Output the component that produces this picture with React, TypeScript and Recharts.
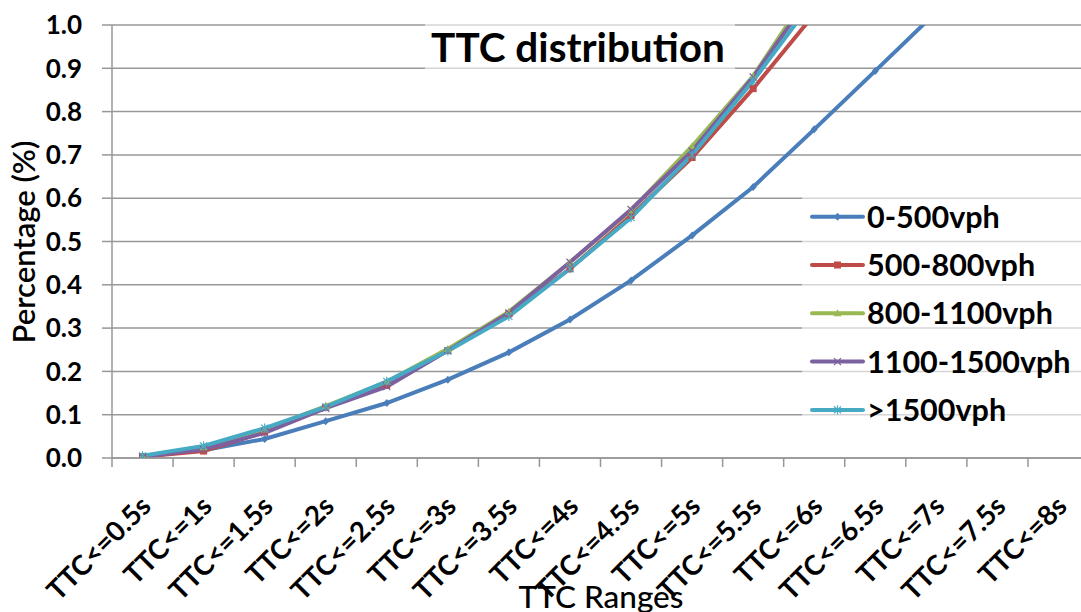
import React from "react";
import {
  LineChart,
  Line,
  XAxis,
  YAxis,
  CartesianGrid,
  Legend,
  Customized,
} from "recharts";

const categories = [
  "TTC<=0.5s",
  "TTC<=1s",
  "TTC<=1.5s",
  "TTC<=2s",
  "TTC<=2.5s",
  "TTC<=3s",
  "TTC<=3.5s",
  "TTC<=4s",
  "TTC<=4.5s",
  "TTC<=5s",
  "TTC<=5.5s",
  "TTC<=6s",
  "TTC<=6.5s",
  "TTC<=7s",
  "TTC<=7.5s",
  "TTC<=8s",
];

// cumulative share per flow band; points past 1.0 run off the top of the plot
const vph0To500 = [0.004, 0.018, 0.044, 0.085, 0.127, 0.181, 0.244, 0.32, 0.41, 0.514, 0.626, 0.759, 0.894, 1.03, null, null];
const vph500To800 = [0.003, 0.016, 0.06, 0.117, 0.168, 0.248, 0.333, 0.437, 0.56, 0.694, 0.853, 1.025, null, null, null, null];
const vph800To1100 = [0.004, 0.025, 0.066, 0.12, 0.176, 0.252, 0.338, 0.452, 0.572, 0.72, 0.882, 1.094, null, null, null, null];
const vph1100To1500 = [0.003, 0.02, 0.058, 0.115, 0.165, 0.248, 0.335, 0.452, 0.574, 0.709, 0.88, 1.08, null, null, null, null];
const vphOver1500 = [0.005, 0.028, 0.069, 0.118, 0.177, 0.247, 0.327, 0.437, 0.555, 0.7, 0.871, 1.06, null, null, null, null];

const yTicks = [0, 0.1, 0.2, 0.3, 0.4, 0.5, 0.6, 0.7, 0.8, 0.9, 1.0];

const FONT = "Lato, 'Open Sans', sans-serif";
const GRID = "#979797";

type MarkerKind = "diamond" | "square" | "triangle" | "cross" | "star";

const series: { key: string; name: string; color: string; marker: MarkerKind; values: (number | null)[] }[] = [
  { key: "a", name: "0-500vph", color: "#4A7EBB", marker: "diamond", values: vph0To500 },
  { key: "b", name: "500-800vph", color: "#BE4B48", marker: "square", values: vph500To800 },
  { key: "c", name: "800-1100vph", color: "#98B954", marker: "triangle", values: vph800To1100 },
  { key: "d", name: "1100-1500vph", color: "#7D60A0", marker: "cross", values: vph1100To1500 },
  { key: "e", name: ">1500vph", color: "#46AAC5", marker: "star", values: vphOver1500 },
];

const data = categories.map((range, i) => {
  const row: Record<string, string | number | null> = { range };
  series.forEach((s) => {
    row[s.key] = s.values[i] ?? null;
  });
  return row;
});

const Marker = ({ kind, cx, cy, color }: { kind: MarkerKind; cx: number; cy: number; color: string }) => {
  switch (kind) {
    case "diamond":
      return <path d={`M${cx},${cy - 4}L${cx + 3.5},${cy}L${cx},${cy + 4}L${cx - 3.5},${cy}Z`} fill={color} />;
    case "square":
      return <rect x={cx - 3.5} y={cy - 3.5} width={7} height={7} fill={color} />;
    case "triangle":
      return <path d={`M${cx},${cy - 4}L${cx + 4},${cy + 3}L${cx - 4},${cy + 3}Z`} fill={color} />;
    case "cross":
      return (
        <g stroke={color} strokeWidth={1.2}>
          <line x1={cx - 3.5} y1={cy - 3.5} x2={cx + 3.5} y2={cy + 3.5} />
          <line x1={cx - 3.5} y1={cy + 3.5} x2={cx + 3.5} y2={cy - 3.5} />
        </g>
      );
    default:
      return (
        <g stroke={color} strokeWidth={1.2}>
          <line x1={cx - 3.5} y1={cy - 3.5} x2={cx + 3.5} y2={cy + 3.5} />
          <line x1={cx - 3.5} y1={cy + 3.5} x2={cx + 3.5} y2={cy - 3.5} />
          <line x1={cx} y1={cy - 4.5} x2={cx} y2={cy + 4.5} />
        </g>
      );
  }
};

const CategoryTick = (props: any) => {
  const { x, y, payload } = props;
  const half = typeof payload?.offset === "number" && payload.offset > 0 ? payload.offset : 30.5;
  const ax = x + 10;
  const ay = y + 50;
  return (
    <g>
      <line x1={x - half} y1={y} x2={x - half} y2={y + 9} stroke={GRID} strokeWidth={1.5} />
      <text
        x={ax}
        y={ay}
        transform={`rotate(-45, ${ax}, ${ay})`}
        textAnchor="end"
        fontFamily={FONT}
        fontWeight={700}
        fontSize={27.5}
        fill="#000"
      >
        {payload.value}
      </text>
    </g>
  );
};

const renderLegend = () => (
  <svg width={279} height={240}>
    {series.map((s, i) => {
      const cy = 24.7 + i * 48.3;
      return (
        <g key={s.key}>
          <line x1={10} y1={cy} x2={61} y2={cy} stroke={s.color} strokeWidth={4} strokeLinecap="round" />
          <Marker kind={s.marker} cx={35.5} cy={cy} color={s.color} />
          <text
            x={65}
            y={cy + 11}
            fontFamily={FONT}
            fontWeight={700}
            fontSize={30.5}
            fill="#000"
          >
            {s.name}
          </text>
        </g>
      );
    })}
  </svg>
);

const Labels = () => (
  <g fontFamily={FONT} fill="#000">
    <rect x={425} y={20} width={310} height={51} fill="rgba(255,255,255,0.6)" />
    <text x={578} y={62} textAnchor="middle" fontWeight={700} fontSize={40.5}>
      TTC distribution
    </text>
    <text x={35} y={242} transform="rotate(-90, 35, 242)" textAnchor="middle" fontWeight={600} fontSize={31}>
      Percentage (%)
    </text>
    <text x={601} y={608} textAnchor="middle" fontWeight={500} fontSize={31.5}>
      TTC Ranges
    </text>
  </g>
);

const TtcDistributionChart = () => {
  return (
    <div
      style={{
        position: "absolute",
        left: 0,
        top: 0,
        width: 1081,
        height: 612,
        overflow: "hidden",
        background: "#fff",
      }}
    >
      <LineChart width={1100} height={612} data={data} margin={{ top: 25, right: 11, bottom: 0, left: 0 }}>
        <CartesianGrid vertical={false} stroke={GRID} strokeWidth={1.5} />
        <XAxis
          dataKey="range"
          scale="band"
          height={154}
          interval={0}
          tickSize={0}
          tickMargin={0}
          tickLine={false}
          axisLine={{ stroke: GRID, strokeWidth: 1.5 }}
          tick={<CategoryTick />}
        />
        <YAxis
          width={112}
          domain={[0, 1]}
          ticks={yTicks}
          allowDataOverflow
          tickFormatter={(v: number) => v.toFixed(1)}
          tickSize={10}
          tickMargin={20}
          tickLine={{ stroke: GRID, strokeWidth: 1.5 }}
          axisLine={{ stroke: GRID, strokeWidth: 1.5 }}
          tick={{ fontFamily: FONT, fontWeight: 700, fontSize: 26, fill: "#000" }}
        />
        {series.map((s) => (
          <Line
            key={s.key}
            type="linear"
            dataKey={s.key}
            name={s.name}
            stroke={s.color}
            strokeWidth={4}
            isAnimationActive={false}
            activeDot={false}
            dot={(p: any) =>
              p.cx == null || p.cy == null || p.value == null ? (
                <g key={`${s.key}-${p.index}`} />
              ) : (
                <g key={`${s.key}-${p.index}`}>
                  <Marker kind={s.marker} cx={p.cx} cy={p.cy} color={s.color} />
                </g>
              )
            }
          />
        ))}
        <Legend
          layout="horizontal"
          align="center"
          verticalAlign="middle"
          content={renderLegend}
          wrapperStyle={{
            left: 802,
            top: 192,
            width: 279,
            height: 240,
            background: "rgba(255,255,255,0.6)",
          }}
        />
        <Customized component={Labels} />
      </LineChart>
    </div>
  );
};

export default function App() {
  return <TtcDistributionChart />;
}
